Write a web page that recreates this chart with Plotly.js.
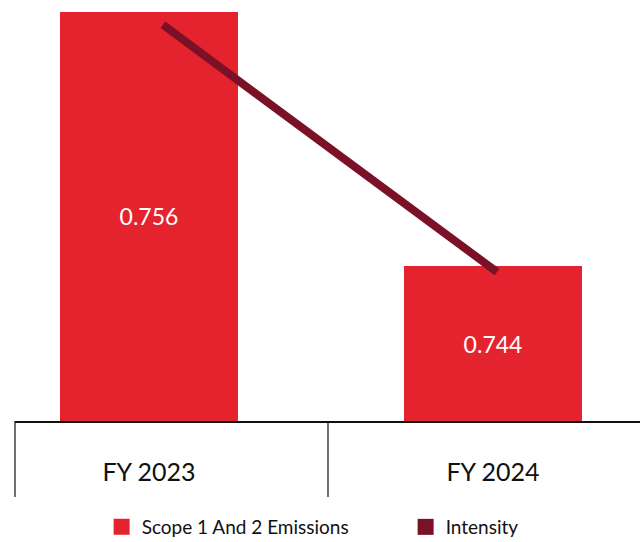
<!DOCTYPE html>
<html><head><meta charset="utf-8">
<script src="https://cdn.plot.ly/plotly-3.0.1.min.js"></script>
<style>html,body{margin:0;padding:0;background:#fff}#chart{width:640px;height:542px}</style>
</head><body><div id="chart"></div>
<script>
const categories = ["FY 2023", "FY 2024"];
const emissions = [0.756, 0.744];
const intensity = [0.941, 0.354];
const seriesNames = ["Scope 1 And 2 Emissions", "Intensity"];

const RED = "#e5232e", MAROON = "#7b1126";
const FONT = "Lato, 'DejaVu Sans', sans-serif";
const Y_MIN = 0.736682, Y_MAX = 0.756566;

const traces = [
  {type: "bar", x: categories, y: emissions.map(v => v - Y_MIN), base: Y_MIN,
   customdata: emissions, name: seriesNames[0], marker: {color: RED},
   width: 0.5174, texttemplate: "%{customdata:.3f}", textposition: "inside", insidetextanchor: "middle",
   textfont: {color: "#ffffff", size: 23, family: FONT}, showlegend: false, hoverinfo: "none"},
  {type: "scatter", mode: "lines", x: categories, y: intensity, name: seriesNames[1],
   xaxis: "x2", yaxis: "y2", line: {color: MAROON, width: 8}, showlegend: false, hoverinfo: "none"},
  {type: "scatter", mode: "markers", x: [null], y: [null], name: seriesNames[0],
   marker: {symbol: "square", size: 20, color: RED}},
  {type: "scatter", mode: "markers", x: [null], y: [null], name: seriesNames[1],
   marker: {symbol: "square", size: 20, color: MAROON}}
];

const layout = {
  width: 640, height: 542,
  margin: {l: 15, r: 0, t: 0, b: 121, pad: 0, autoexpand: false},
  paper_bgcolor: "#ffffff", plot_bgcolor: "#ffffff",
  font: {family: FONT, color: "#111111"},
  xaxis: {type: "category", range: [-0.3895, 1.4273], showline: true, linecolor: "#111111", linewidth: 1.5,
          ticks: "", showgrid: false, zeroline: false, ticklabelstandoff: 28, automargin: false,
          tickfont: {size: 25, color: "#111111", family: FONT}},
  xaxis2: {type: "category", overlaying: "x", range: [-0.443, 1.428], visible: false},
  yaxis: {range: [Y_MIN, Y_MAX], visible: false, showgrid: false, zeroline: false},
  yaxis2: {range: [0, 1], overlaying: "y", visible: false, showgrid: false, zeroline: false},
  showlegend: true,
  legend: {orientation: "h", x: 0.625, xanchor: "center", y: -0.2518, yanchor: "middle",
           font: {size: 19, color: "#111111", family: FONT}, itemsizing: "trace",
           entrywidth: 259, entrywidthmode: "pixels"},
  shapes: [
    {type: "line", xref: "paper", yref: "paper", x0: 0, x1: 0, y0: 0, y1: -0.1805, line: {color: "#111111", width: 1.2}},
    {type: "line", xref: "paper", yref: "paper", x0: 0.5008, x1: 0.5008, y0: 0, y1: -0.1805, line: {color: "#111111", width: 1.2}}
  ]
};

Plotly.newPlot("chart", traces, layout, {displayModeBar: false, staticPlot: true});
</script></body></html>
